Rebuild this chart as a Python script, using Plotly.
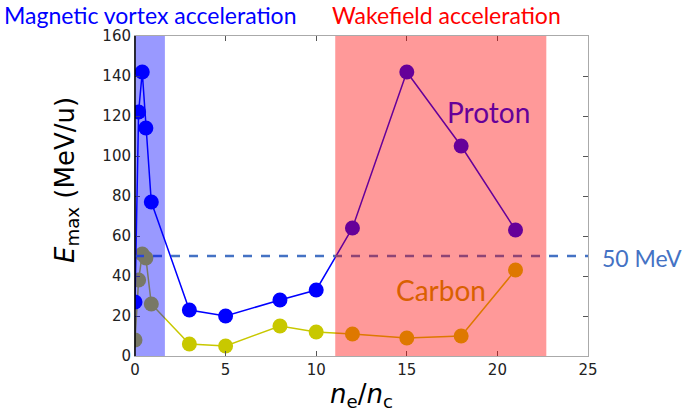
import plotly.graph_objects as go

# Data
ne_nc = [0, 0.2, 0.4, 0.6, 0.9, 3, 5, 8, 10, 12, 15, 18, 21]
proton = [27, 122, 142, 114, 77, 23, 20, 28, 33, 64, 142, 105, 63]
carbon = [8, 38, 51, 49, 26, 6, 5, 15, 12, 11, 9, 10, 43]
ref_level = 50
vortex_range = [0, 1.65]
wake_range = [11.05, 22.7]
x_ticks = [0, 5, 10, 15, 20, 25]
y_ticks = [0, 20, 40, 60, 80, 100, 120, 140, 160]

TICKFONT = dict(family="DejaVu Sans", size=15, color="#222222")
ANNFONT = "Lato"

PL, PT, PW, PH = 135, 36, 453, 320   # plot area in window pixels

fig = go.Figure()
fig.add_trace(go.Scatter(x=ne_nc, y=carbon, mode="lines+markers",
                         line=dict(color="#c8c800", width=1.5),
                         marker=dict(color="#c8c800", size=15),
                         showlegend=False, hoverinfo="skip"))
fig.add_trace(go.Scatter(x=ne_nc, y=proton, mode="lines+markers",
                         line=dict(color="#0000ff", width=1.5),
                         marker=dict(color="#0000ff", size=15),
                         showlegend=False, hoverinfo="skip"))

fig.add_shape(type="line", xref="x", yref="y", x0=0, x1=25, y0=ref_level, y1=ref_level,
              line=dict(color="#4472c4", width=2.5, dash="dash"), layer="above")
fig.add_shape(type="rect", xref="x", yref="y", x0=vortex_range[0], x1=vortex_range[1],
              y0=0, y1=160, fillcolor="#0000ff", opacity=0.4, line_width=0, layer="above")
fig.add_shape(type="rect", xref="x", yref="y", x0=wake_range[0], x1=wake_range[1],
              y0=0, y1=160, fillcolor="#ff0000", opacity=0.4, line_width=0, layer="above")

anns = [
    dict(text="Magnetic vortex acceleration", x=2, y=15, color="#0000ff", size=23, xanchor="left", angle=0),
    dict(text="Wakefield acceleration", x=330, y=15, color="#ff0000", size=23, xanchor="left", angle=0),
    dict(text="Proton", x=445, y=112, color="#660099", size=28, xanchor="left", angle=0),
    dict(text="Carbon", x=394, y=290, color="#d96000", size=28, xanchor="left", angle=0),
    dict(text="50 MeV", x=600, y=258, color="#4472c4", size=23, xanchor="left", angle=0),
    dict(text="<i>E</i><sub>max</sub> (MeV/u)", x=66, y=180, color="black", size=26,
         xanchor="center", angle=-90, family="DejaVu Sans"),
]
for a in anns:
    fig.add_annotation(text=a["text"], xref="paper", yref="paper",
                       x=(a["x"] - PL) / PW, y=1 - (a["y"] - PT) / PH,
                       xanchor=a["xanchor"], yanchor="middle", showarrow=False,
                       textangle=a["angle"],
                       font=dict(family=a.get("family", ANNFONT), size=a["size"], color=a["color"]))

fig.update_layout(
    width=691, height=419,
    margin=dict(l=PL, r=691 - PL - PW, t=PT, b=419 - PT - PH),
    paper_bgcolor="white", plot_bgcolor="white",
    xaxis=dict(range=[0, 25], tickvals=x_ticks, ticks="inside", ticklen=5,
               tickcolor="#555555", showgrid=False, zeroline=False,
               showline=True, linecolor="#aaaaaa", linewidth=1, mirror="ticks",
               tickfont=TICKFONT,
               title=dict(text="<i>n</i><sub>e</sub>/<i>n</i><sub>c</sub>",
                          font=dict(family="DejaVu Sans", size=26, color="black"),
                          standoff=6)),
    yaxis=dict(range=[0, 160], tickvals=y_ticks, ticks="inside", ticklen=5,
               tickcolor="#555555", showgrid=False, zeroline=False,
               showline=True, linecolor="#aaaaaa", linewidth=1, mirror="ticks",
               tickfont=TICKFONT),
)
fig.add_shape(type="line", xref="paper", yref="paper", x0=0, x1=0, y0=0, y1=1,
              line=dict(color="black", width=1.5), layer="above")

fig.write_html("out.html", config={"displayModeBar": False},
               post_script="document.body.style.margin='0px';document.body.style.overflow='hidden';")
